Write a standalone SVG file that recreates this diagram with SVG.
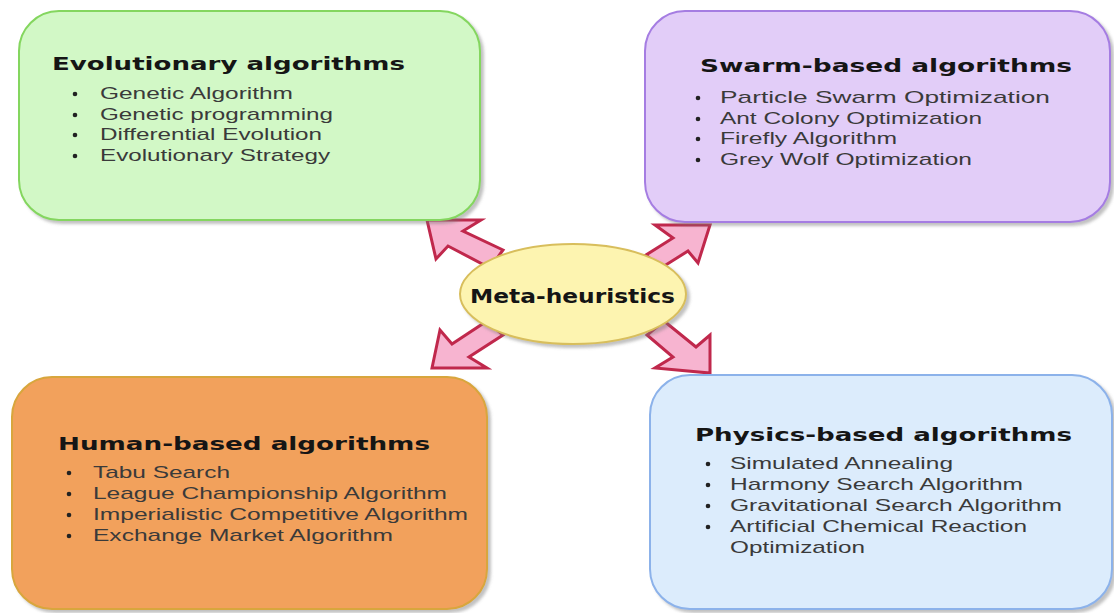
<svg xmlns="http://www.w3.org/2000/svg" width="1114" height="613" viewBox="0 0 1114 613">
<defs>
<filter id="sh" x="-5%" y="-5%" width="115%" height="115%">
<feDropShadow dx="3" dy="3" stdDeviation="1.5" flood-color="#777" flood-opacity="0.45"/>
</filter>
<style>
.box{stroke-width:2;filter:url(#sh)}
.title{font-family:"DejaVu Sans",Verdana,sans-serif;font-weight:bold;font-size:18px;fill:#151515}
.item{font-family:"Liberation Sans",Arial,sans-serif;font-size:17px;fill:#3a3a3a}
.dot{fill:#222}
.arrow{fill:#f7b4d0;stroke:#c0284c;stroke-width:3;stroke-linejoin:miter}
</style>
</defs>
<rect width="1114" height="613" fill="#ffffff"/>

<g id="connectors">
<polygon class="arrow" points="427,220 481,220 463,231 503,250 490,268 448,246 436,259"/>
<polygon class="arrow" points="710,225 655,225 673,238 646,255 661,268 688,251 698,263"/>
<polygon class="arrow" points="432,368 440,330 452,344 487,321 503,335 469,357 487,368"/>
<polygon class="arrow" points="710,373 710,335 696,347 664,321 647,335 673,357 655,368"/>
</g>

<g id="evolutionary">
<rect class="box" x="19" y="11" width="461" height="209" rx="40" fill="#d2f8c6" stroke="#84d65e"/>
<text class="title" x="52" y="70" textLength="353" lengthAdjust="spacingAndGlyphs">Evolutionary algorithms</text>
<circle class="dot" cx="75" cy="94" r="2.3"/>
<circle class="dot" cx="75" cy="115" r="2.3"/>
<circle class="dot" cx="75" cy="135" r="2.3"/>
<circle class="dot" cx="75" cy="156" r="2.3"/>
<text class="item" x="100" y="99" textLength="193" lengthAdjust="spacingAndGlyphs">Genetic Algorithm</text>
<text class="item" x="100" y="120" textLength="233" lengthAdjust="spacingAndGlyphs">Genetic programming</text>
<text class="item" x="100" y="140" textLength="222" lengthAdjust="spacingAndGlyphs">Differential Evolution</text>
<text class="item" x="100" y="161" textLength="230" lengthAdjust="spacingAndGlyphs">Evolutionary Strategy</text>
</g>

<g id="swarm">
<rect class="box" x="645" y="11" width="465" height="211" rx="40" fill="#e2cdf8" stroke="#a57de2"/>
<text class="title" x="700" y="72" textLength="372" lengthAdjust="spacingAndGlyphs">Swarm-based algorithms</text>
<circle class="dot" cx="698" cy="98" r="2.3"/>
<circle class="dot" cx="698" cy="119" r="2.3"/>
<circle class="dot" cx="698" cy="139" r="2.3"/>
<circle class="dot" cx="698" cy="160" r="2.3"/>
<text class="item" x="720" y="103" textLength="330" lengthAdjust="spacingAndGlyphs">Particle Swarm Optimization</text>
<text class="item" x="720" y="124" textLength="262" lengthAdjust="spacingAndGlyphs">Ant Colony Optimization</text>
<text class="item" x="720" y="144" textLength="177" lengthAdjust="spacingAndGlyphs">Firefly Algorithm</text>
<text class="item" x="720" y="165" textLength="252" lengthAdjust="spacingAndGlyphs">Grey Wolf Optimization</text>
</g>

<g id="human">
<rect class="box" x="12" y="377" width="475" height="232" rx="40" fill="#f2a15b" stroke="#d8a63c"/>
<text class="title" x="58" y="450" textLength="372" lengthAdjust="spacingAndGlyphs">Human-based algorithms</text>
<circle class="dot" cx="69" cy="473" r="2.3"/>
<circle class="dot" cx="69" cy="494" r="2.3"/>
<circle class="dot" cx="69" cy="515" r="2.3"/>
<circle class="dot" cx="69" cy="536" r="2.3"/>
<text class="item" x="93" y="478" textLength="137" lengthAdjust="spacingAndGlyphs">Tabu Search</text>
<text class="item" x="93" y="499" textLength="354" lengthAdjust="spacingAndGlyphs">League Championship Algorithm</text>
<text class="item" x="93" y="520" textLength="375" lengthAdjust="spacingAndGlyphs">Imperialistic Competitive Algorithm</text>
<text class="item" x="93" y="541" textLength="300" lengthAdjust="spacingAndGlyphs">Exchange Market Algorithm</text>
</g>

<g id="physics">
<rect class="box" x="650" y="375" width="462" height="234" rx="40" fill="#dcecfc" stroke="#8cb2ea"/>
<text class="title" x="695" y="441" textLength="377" lengthAdjust="spacingAndGlyphs">Physics-based algorithms</text>
<circle class="dot" cx="708" cy="464" r="2.3"/>
<circle class="dot" cx="708" cy="485" r="2.3"/>
<circle class="dot" cx="708" cy="506" r="2.3"/>
<circle class="dot" cx="708" cy="527" r="2.3"/>
<text class="item" x="730" y="469" textLength="223" lengthAdjust="spacingAndGlyphs">Simulated Annealing</text>
<text class="item" x="730" y="490" textLength="293" lengthAdjust="spacingAndGlyphs">Harmony Search Algorithm</text>
<text class="item" x="730" y="511" textLength="332" lengthAdjust="spacingAndGlyphs">Gravitational Search Algorithm</text>
<text class="item" x="730" y="532" textLength="297" lengthAdjust="spacingAndGlyphs">Artificial Chemical Reaction</text>
<text class="item" x="730" y="553" textLength="135" lengthAdjust="spacingAndGlyphs">Optimization</text>
</g>

<g id="meta">
<ellipse cx="573" cy="294" rx="113" ry="50" fill="#fdf4b0" stroke="#d8be5c" stroke-width="2" filter="url(#sh)"/>
<text class="title" x="470" y="303" font-size="20" textLength="205" lengthAdjust="spacingAndGlyphs" style="font-size:20px">Meta-heuristics</text>
</g>
</svg>
